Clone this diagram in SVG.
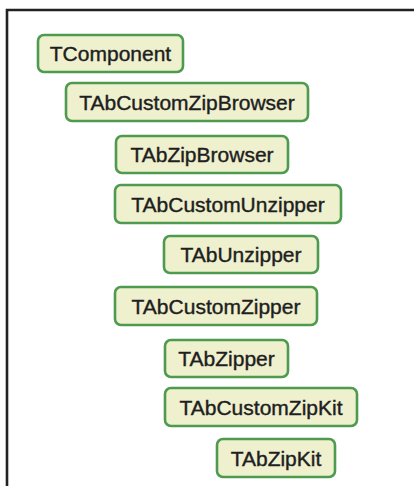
<svg xmlns="http://www.w3.org/2000/svg" width="414" height="486" viewBox="0 0 414 486">
  <style>
    .frame { fill: none; stroke: #222222; stroke-width: 2.6; }
    .node rect { fill: #EEF0CE; stroke: #4E9B50; stroke-width: 2.6; }
    .node text { font-family: "Liberation Sans", Arial, sans-serif; font-size: 21px; fill: #1E1E1E; stroke: #1E1E1E; stroke-width: 0.4; text-anchor: middle; }
  </style>
  <rect width="414" height="486" fill="#FFFFFF"/>
  <!-- open frame: left and top edges only -->
  <path class="frame" d="M7,488 V10 H416"/>
  <g id="connectors"/>
  <g id="TComponent" class="node">
    <rect x="38" y="35" width="145" height="37" rx="6"/>
    <text x="110.5" y="61">TComponent</text>
  </g>
  <g id="TAbCustomZipBrowser" class="node">
    <rect x="66" y="83" width="242" height="38" rx="6"/>
    <text x="187" y="109.5">TAbCustomZipBrowser</text>
  </g>
  <g id="TAbZipBrowser" class="node">
    <rect x="116" y="136" width="172" height="37" rx="6"/>
    <text x="202" y="162">TAbZipBrowser</text>
  </g>
  <g id="TAbCustomUnzipper" class="node">
    <rect x="115" y="185" width="226" height="38" rx="6"/>
    <text x="228" y="211.5">TAbCustomUnzipper</text>
  </g>
  <g id="TAbUnzipper" class="node">
    <rect x="164" y="236" width="154" height="37" rx="6"/>
    <text x="241" y="262">TAbUnzipper</text>
  </g>
  <g id="TAbCustomZipper" class="node">
    <rect x="115" y="287" width="202" height="38" rx="6"/>
    <text x="216" y="313.5">TAbCustomZipper</text>
  </g>
  <g id="TAbZipper" class="node">
    <rect x="165" y="340" width="123" height="37" rx="6"/>
    <text x="226.5" y="366">TAbZipper</text>
  </g>
  <g id="TAbCustomZipKit" class="node">
    <rect x="165" y="388" width="192" height="38" rx="6"/>
    <text x="261" y="414.5">TAbCustomZipKit</text>
  </g>
  <g id="TAbZipKit" class="node">
    <rect x="217" y="439" width="118" height="38" rx="6"/>
    <text x="276" y="465.5">TAbZipKit</text>
  </g>
</svg>
